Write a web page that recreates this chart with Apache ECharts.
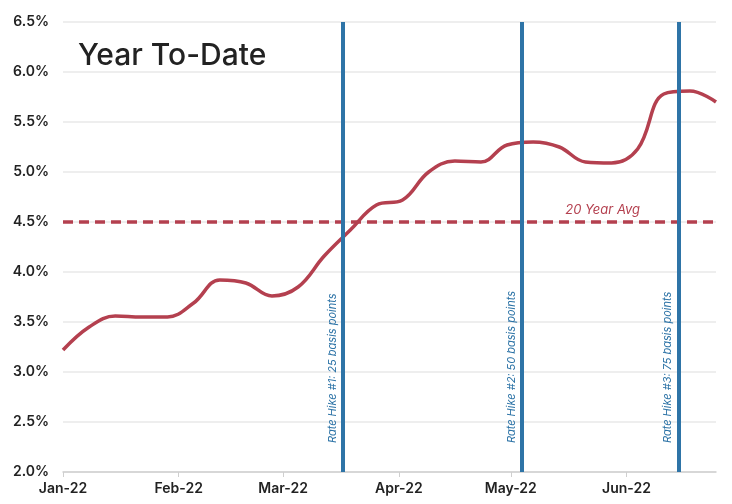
<!DOCTYPE html>
<html><head><meta charset="utf-8">
<script src="https://cdn.jsdelivr.net/npm/echarts@6/dist/echarts.min.js"></script>
<style>html,body{margin:0;padding:0;background:#fff}#c{width:732px;height:504px}</style>
</head><body><div id="c"></div>
<script>
const dates = ['2022-01-01','2022-01-08','2022-01-15','2022-01-22','2022-01-29','2022-02-05','2022-02-12','2022-02-19','2022-02-26','2022-03-05','2022-03-12','2022-03-19','2022-03-26','2022-04-02','2022-04-09','2022-04-16','2022-04-23','2022-04-30','2022-05-07','2022-05-14','2022-05-21','2022-05-28','2022-06-04','2022-06-11','2022-06-18','2022-06-25'];
const rates = [3.22,3.45,3.56,3.55,3.55,3.69,3.92,3.89,3.76,3.85,4.16,4.42,4.67,4.72,5.00,5.11,5.10,5.27,5.30,5.25,5.10,5.09,5.23,5.78,5.81,5.70];
const avg20 = 4.5;
const hikeDates = ['2022-03-17','2022-05-04','2022-06-15'];
const hikeLabels = ['Rate Hike #1: 25 basis points','Rate Hike #2: 50 basis points','Rate Hike #3: 75 basis points'];
const monthNames = ['Jan','Feb','Mar','Apr','May','Jun','Jul','Aug','Sep','Oct','Nov','Dec'];
const FONT = 'Inter, "Noto Sans", sans-serif';
const RED = '#b4404f', BLUE = '#2e74a7';

const chart = echarts.init(document.getElementById('c'), null, {renderer:'canvas'});
chart.setOption({
  animation:false,
  title:{text:'Year To-Date', left:73, top:36, textStyle:{fontFamily:FONT, fontSize:30, fontWeight:500, color:'#222'}},
  grid:{left:63, right:16, top:22, bottom:32, containLabel:false},
  xAxis:{
    type:'time', min:dates[0], max:dates[dates.length-1], splitNumber:6,
    axisLine:{lineStyle:{color:'#cfcfcf', width:1.5}},
    axisTick:{show:true, length:5, lineStyle:{color:'#cfcfcf'}},
    splitLine:{show:false},
    axisLabel:{fontFamily:FONT, fontSize:14, fontWeight:600, color:'#222', margin:10,
      formatter:function(v){const d=new Date(v); return monthNames[d.getMonth()]+'-'+String(d.getFullYear()).slice(2);}}
  },
  yAxis:{
    type:'value', min:2, max:6.5, interval:0.5,
    axisLine:{show:false}, axisTick:{show:false},
    splitLine:{lineStyle:{color:'#e8e8e8', width:1.5}},
    axisLabel:{fontFamily:FONT, fontSize:14, fontWeight:600, color:'#222', margin:14,
      formatter:function(v){return v.toFixed(1)+'%';}}
  },
  series:[
    {type:'line', data:dates.map((d,i)=>[d,rates[i]]), smooth:0.4, showSymbol:false,
     lineStyle:{color:RED, width:3.5}, z:3,
     markLine:{silent:true, symbol:'none', animation:false,
       data:[{yAxis:avg20, lineStyle:{color:RED, width:3.5, type:[10,6]},
         label:{show:true, formatter:'20 Year Avg', position:'insideEndTop', distance:[76,5],
           fontFamily:FONT, fontSize:13, fontStyle:'italic', color:RED}}]}
    },
    {type:'line', data:[], z:4,
     markLine:{silent:true, symbol:'none', animation:false,
       lineStyle:{color:BLUE, width:4, type:'solid'},
       data:hikeDates.map((d,i)=>({xAxis:d,
         label:{show:true, formatter:hikeLabels[i], position:'insideStartTop', distance:[29,5],
           fontFamily:FONT, fontSize:11, fontStyle:'italic', color:BLUE}}))}
    }
  ]
});
</script></body></html>
